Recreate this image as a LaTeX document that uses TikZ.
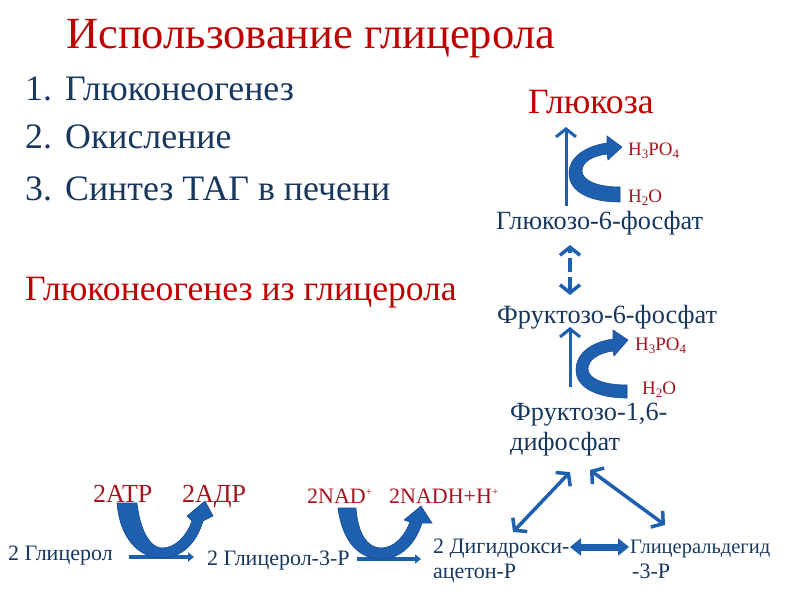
\documentclass[tikz,border=0pt]{standalone}
\usepackage{fontspec}
\setmainfont{Liberation Serif}
\usetikzlibrary{arrows.meta}
\definecolor{ttl}{RGB}{192,0,0}
\definecolor{lbl}{RGB}{165,20,30}
\definecolor{txt}{RGB}{23,55,94}
\definecolor{arr}{RGB}{30,95,175}
\definecolor{arrd}{RGB}{22,75,145}
\newcommand\fs[1]{\fontsize{#1}{#1}\selectfont}
\newcommand\lo[1]{\raisebox{-0.35ex}{\fs{13}#1}}
\newcommand\hi[1]{\raisebox{0.7ex}{\fs{11}#1}}
\begin{document}
\begin{tikzpicture}[x=1pt,y=-1pt,
  lab/.style={anchor=base west, inner sep=0pt},
  bigt/.style={lab, text=ttl, font=\fs{44.5}},
  listt/.style={lab, text=txt, font=\fs{35.8}},
  redt/.style={lab, text=ttl, font=\fs{35.6}},
  met/.style={lab, text=txt, font=\fs{26.3}},
  smet/.style={lab, text=txt, font=\fs{22}},
  chem/.style={lab, text=lbl, font=\fs{19}},
  cof/.style={lab, text=lbl, font=\fs{26}},
  cofs/.style={lab, text=lbl, font=\fs{22}},
  thinarr/.style={draw=arr, line width=3pt, -{Straight Barb[length=8pt,width=20pt]}},
  dblarr/.style={draw=arr, line width=3.5pt, {Straight Barb[length=8pt,width=20pt]}-{Straight Barb[length=8pt,width=20pt]}},
  curvarr/.style={fill=arr, draw=arrd, line width=0.6pt},
  rline/.style={draw=arr, line width=3.5pt, -{Triangle[length=6pt,width=9pt]}}
]
\useasboundingbox (0,0) rectangle (800,600);

% title and list
\node[bigt] (title) at (66,48) {Использование глицерола};
\node[listt] (n1) at (25,100) {1.};
\node[listt] (i1) at (65,100) {Глюконеогенез};
\node[listt] (n2) at (25,148) {2.};
\node[listt] (i2) at (65,148) {Окисление};
\node[listt] (n3) at (25,200) {3.};
\node[listt] (i3) at (65,200) {Синтез ТАГ в печени};
\node[redt] (sub) at (25,300) {Глюконеогенез из глицерола};

% right column
\node[redt] (glc) at (528,113) {Глюкоза};
\node[met] (g6p) at (496,229) {Глюкозо-6-фосфат};
\node[met] (f6p) at (497,323) {Фруктозо-6-фосфат};
\node[met] (fbp1) at (510,420) {Фруктозо-1,6-};
\node[met] (fbp2) at (510,450) {дифосфат};
\node[chem] (p1) at (628,155) {H\lo{3}PO\lo{4}};
\node[chem] (w1) at (628,202) {H\lo{2}O};
\node[chem] (p2) at (635,350) {H\lo{3}PO\lo{4}};
\node[chem] (w2) at (642,394) {H\lo{2}O};

% bottom row
\node[smet] (gly) at (8,560) {2 Глицерол};
\node[smet] (g3p) at (207,565) {2 Глицерол-3-Р};
\node[smet] (dhap1) at (433,553) {2 Дигидрокси-};
\node[smet] (dhap2) at (433,578) {ацетон-Р};
\node[smet, font=\fs{20.5}] (gap1) at (630,553) {Глицеральдегид};
\node[smet] (gap2) at (632,578) {-3-Р};
\node[cof] (atp) at (93,502) {2ATP};
\node[cof] (adp) at (182,502) {2АДР};
\node[cofs] (nad) at (307,503) {2NAD\hi{+}};
\node[cofs] (nadh) at (389,503) {2NADH+H\hi{+}};

% vertical arrows
\coordinate (a1s) at (566,206); \coordinate (a1e) at (566,127);
\draw[thinarr] (a1s) -- (a1e);
\coordinate (a2s) at (570,387); \coordinate (a2e) at (570,327);
\draw[thinarr] (a2s) -- (a2e);
\coordinate (d1s) at (570,295); \coordinate (d1e) at (570,245);
\draw[dblarr, dash pattern=on 14pt off 5pt] (d1s) -- (d1e);

% curved arrows (C shapes)
\filldraw[curvarr] (620,187) .. controls (596,187) and (582,180) .. (582,171)
  .. controls (582,162) and (592,156) .. (607,154) -- (608,160) -- (622,147)
  -- (607,136) -- (607,143) .. controls (586,146) and (569,157) .. (569,173)
  .. controls (569,192) and (590,202) .. (620,202) -- cycle;
\filldraw[curvarr] (627,385) .. controls (602,385) and (588,378) .. (588,369)
  .. controls (588,360) and (598,353) .. (613,351) -- (614,356) -- (628,340)
  -- (613,330) -- (613,339) .. controls (592,342) and (576,353) .. (576,370)
  .. controls (576,388) and (598,398) .. (627,398) -- cycle;

% bottom reaction lines
\coordinate (l1s) at (129,557); \coordinate (l1e) at (194,557);
\draw[rline] (l1s) -- (l1e);
\coordinate (l2s) at (357,559); \coordinate (l2e) at (421,559);
\draw[rline] (l2s) -- (l2e);

% U arrows
\filldraw[curvarr] (117,503) -- (137,503) .. controls (140,530) and (150,548) .. (162,548)
  .. controls (176,548) and (187,535) .. (192,521) -- (187,516) -- (205,501)
  -- (213,516) -- (203,521) .. controls (196,545) and (180,558) .. (162,558)
  .. controls (140,558) and (120,540) .. (117,503) -- cycle;
\filldraw[curvarr] (338,508) -- (356,508) .. controls (358,535) and (368,548) .. (381,548)
  .. controls (395,548) and (405,535) .. (410,522) -- (404,520) -- (421,506)
  -- (432,523) -- (422,523) .. controls (415,545) and (400,559) .. (381,559)
  .. controls (358,559) and (342,540) .. (338,508) -- cycle;

% triangle of equilibria
\coordinate (t1a) at (513,532); \coordinate (t1b) at (570,472);
\draw[dblarr] (t1a) -- (t1b);
\coordinate (t2a) at (590,470); \coordinate (t2b) at (665,525);
\draw[dblarr] (t2a) -- (t2b);
\coordinate (h1) at (570,547); \coordinate (h2) at (629,547);
\draw[draw=arr, line width=7pt, {Triangle[length=11pt,width=17pt]}-{Triangle[length=11pt,width=17pt]}] (h1) -- (h2);
\end{tikzpicture}
\end{document}
